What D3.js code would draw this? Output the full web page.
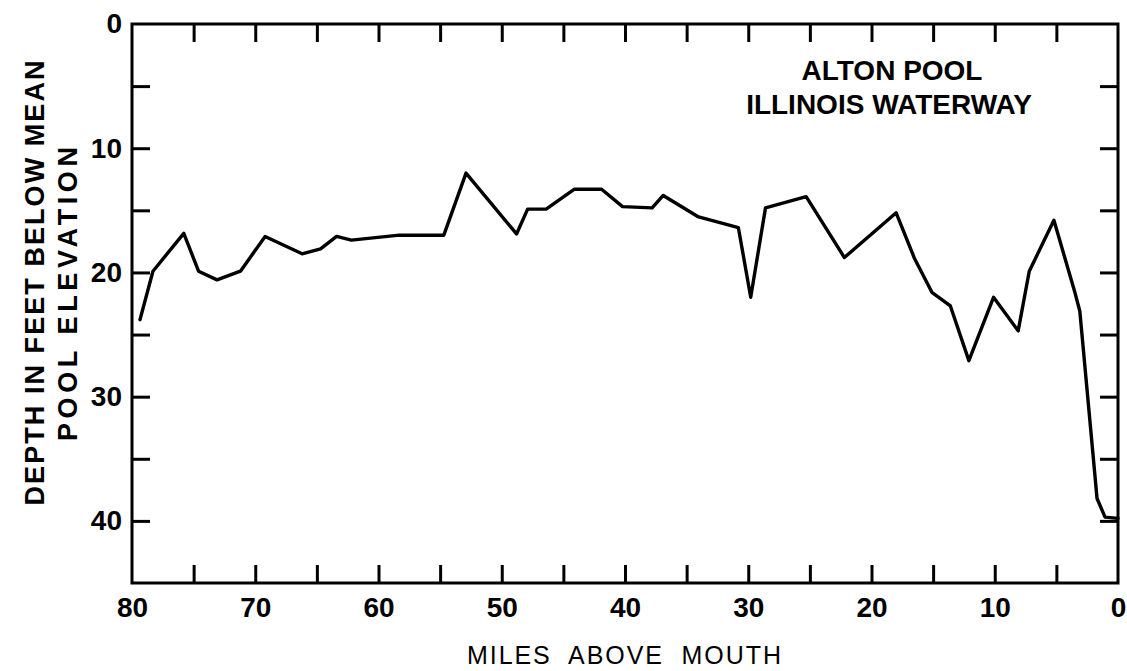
<!DOCTYPE html>
<html>
<head>
<meta charset="utf-8">
<script src="https://cdn.jsdelivr.net/npm/d3@7/dist/d3.min.js"></script>
<style>
  html, body { margin: 0; padding: 0; background: #fff; }
  svg { display: block; }
  text { font-family: "Liberation Sans", Arial, Helvetica, sans-serif; fill: #000; }
</style>
</head>
<body>
<svg id="chart" width="1127" height="671"></svg>
<script>
// River profile: channel depth along the Alton Pool reach of the Illinois Waterway
const milesAboveMouth = [79.35, 78.3, 75.8, 74.6, 73.1, 71.2, 69.2, 66.2, 64.7, 63.4, 62.2,
  58.3, 54.7, 52.9, 48.8, 47.9, 46.4, 44.1, 41.9, 40.2, 37.8, 36.9, 34.1, 30.8, 29.8,
  28.6, 25.3, 22.2, 18.0, 16.5, 15.1, 13.6, 12.1, 10.1, 8.1, 7.2, 5.2, 3.5, 3.1, 1.7, 1.05, 0];
const depthFeet = [23.8, 19.9, 16.85, 19.9, 20.6, 19.9, 17.1, 18.5, 18.1, 17.1, 17.4,
  17.0, 17.0, 12.0, 16.9, 14.9, 14.9, 13.3, 13.3, 14.7, 14.8, 13.8, 15.5, 16.4, 22.0,
  14.8, 13.9, 18.8, 15.2, 18.9, 21.6, 22.7, 27.1, 22.0, 24.7, 19.9, 15.8, 21.6, 23.1, 38.2, 39.7, 39.8];

const xLabelTicks = [80, 70, 60, 50, 40, 30, 20, 10, 0];
const xMinorTicks = [75, 70, 65, 60, 55, 50, 45, 40, 35, 30, 25, 20, 15, 10, 5];
const yLabelTicks = [0, 10, 20, 30, 40];
const yMinorTicks = [5, 10, 15, 20, 25, 30, 35, 40];

const titleLines = ["ALTON POOL", "ILLINOIS WATERWAY"];
const yTitleLines = ["DEPTH IN FEET BELOW MEAN", "POOL ELEVATION"];
const xTitle = "MILES  ABOVE  MOUTH";

const margin = { top: 24, right: 9, bottom: 88, left: 132 };
const W = 1127, H = 671;
const iw = W - margin.left - margin.right;
const ih = H - margin.top - margin.bottom;

const svg = d3.select("#chart");
const g = svg.append("g").attr("transform", `translate(${margin.left},${margin.top})`);

const x = d3.scaleLinear().domain([80, 0]).range([0, iw]);
const y = d3.scaleLinear().domain([0, 45]).range([0, ih]);

const TICK = 18;
const tickStyle = sel => {
  sel.select(".domain").remove();
  sel.selectAll(".tick line").attr("stroke", "#000").attr("stroke-width", 3);
};

// inward tick marks on all four sides
g.append("g").attr("transform", `translate(0,${ih})`)
  .call(d3.axisBottom(x).tickValues(xMinorTicks).tickSize(-TICK).tickFormat(""))
  .call(tickStyle);
g.append("g")
  .call(d3.axisTop(x).tickValues(xMinorTicks).tickSize(-TICK).tickFormat(""))
  .call(tickStyle);
g.append("g")
  .call(d3.axisLeft(y).tickValues(yMinorTicks).tickSize(-TICK).tickFormat(""))
  .call(tickStyle);
g.append("g").attr("transform", `translate(${iw},0)`)
  .call(d3.axisRight(y).tickValues(yMinorTicks).tickSize(-TICK).tickFormat(""))
  .call(tickStyle);

// tick labels
const labelStyle = sel => {
  sel.select(".domain").remove();
  sel.selectAll(".tick line").remove();
  sel.selectAll(".tick text")
    .attr("font-family", "'Liberation Sans', Arial, sans-serif")
    .attr("font-size", 28).attr("font-weight", "bold").attr("fill", "#000");
};
g.append("g").attr("transform", `translate(0,${ih})`)
  .call(d3.axisBottom(x).tickValues(xLabelTicks).tickSize(0).tickPadding(14).tickFormat(d3.format("d")))
  .call(labelStyle);
g.append("g")
  .call(d3.axisLeft(y).tickValues(yLabelTicks).tickSize(0).tickPadding(10).tickFormat(d3.format("d")))
  .call(labelStyle);

// frame
g.append("rect")
  .attr("x", 0).attr("y", 0).attr("width", iw).attr("height", ih)
  .attr("fill", "none").attr("stroke", "#000").attr("stroke-width", 3);

// depth profile line
const line = d3.line()
  .x((d, i) => x(milesAboveMouth[i]))
  .y(d => y(d))
  .curve(d3.curveLinear);
g.append("path")
  .datum(depthFeet)
  .attr("d", line)
  .attr("fill", "none")
  .attr("stroke", "#000")
  .attr("stroke-width", 3.4)
  .attr("stroke-linejoin", "round")
  .attr("stroke-linecap", "round");

// title block
const title = svg.append("g").attr("font-weight", "bold").attr("font-size", 28).attr("text-anchor", "middle");
title.append("text").attr("x", 892).attr("y", 80).text(titleLines[0]);
title.append("text").attr("x", 889).attr("y", 114).text(titleLines[1]);

// axis titles
svg.append("text")
  .attr("transform", "translate(44,283) rotate(-90)")
  .attr("text-anchor", "middle")
  .attr("font-weight", "bold").attr("font-size", 27)
  .attr("textLength", 445).attr("lengthAdjust", "spacing")
  .text(yTitleLines[0]);
svg.append("text")
  .attr("transform", "translate(77,294) rotate(-90)")
  .attr("text-anchor", "middle")
  .attr("font-weight", "bold").attr("font-size", 27)
  .attr("textLength", 294).attr("lengthAdjust", "spacing")
  .text(yTitleLines[1]);

svg.append("text")
  .attr("x", 624).attr("y", 664)
  .attr("text-anchor", "middle")
  .attr("font-size", 25)
  .attr("textLength", 314).attr("lengthAdjust", "spacing")
  .attr("xml:space", "preserve")
  .style("white-space", "pre")
  .text(xTitle);
</script>
</body>
</html>
